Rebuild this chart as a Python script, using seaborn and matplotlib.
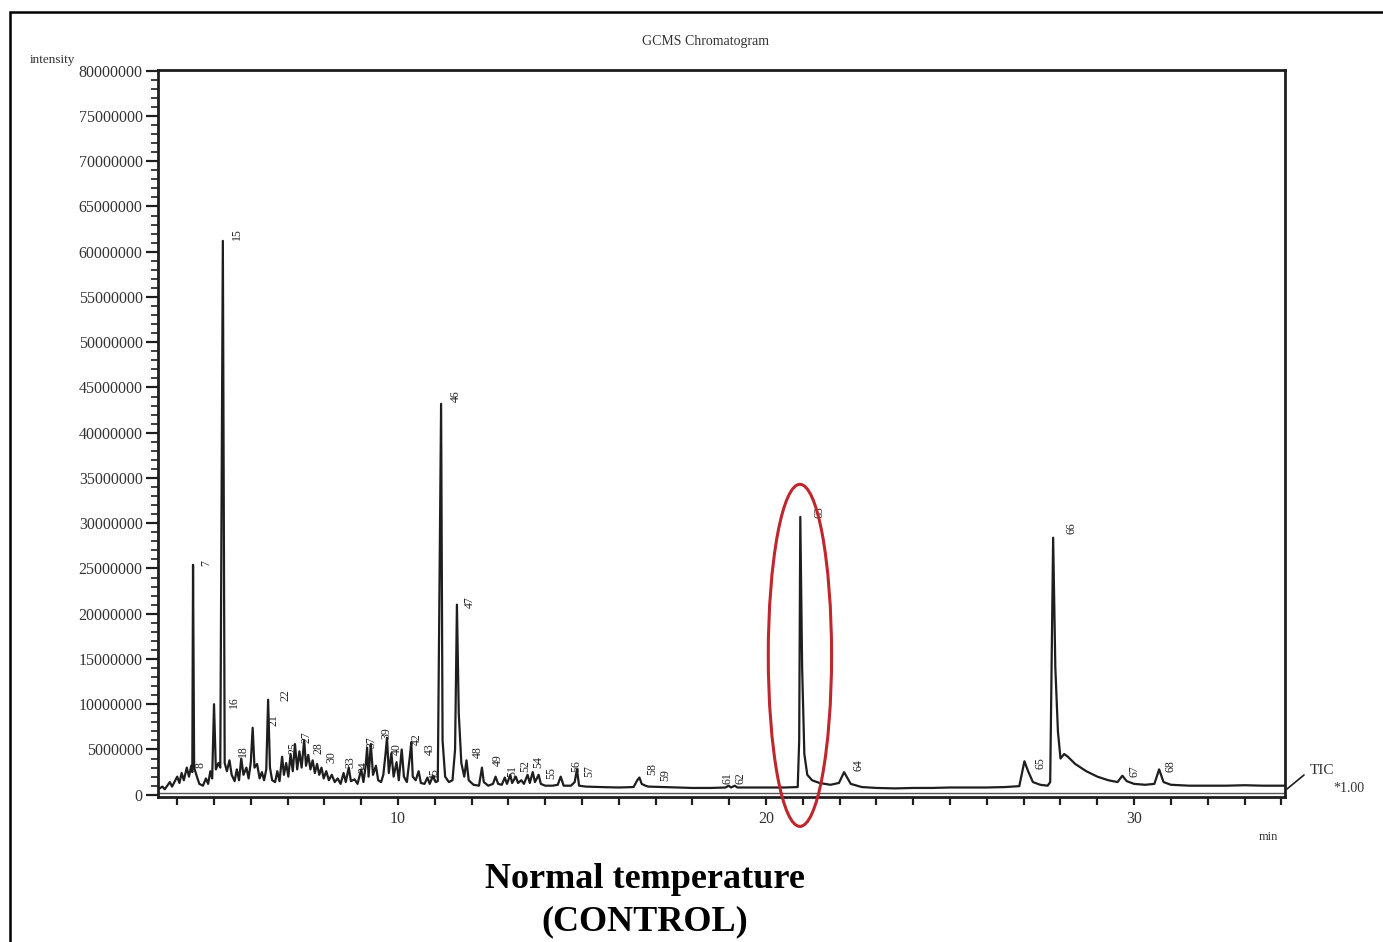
import matplotlib
matplotlib.use('Agg')
import matplotlib.pyplot as plt
import seaborn as sns
from matplotlib.patches import Ellipse, Rectangle
from matplotlib.lines import Line2D
from matplotlib.ticker import MultipleLocator, FixedLocator, FuncFormatter

sns.set_theme(style='ticks')
plt.rcParams['font.family'] = ['Liberation Serif', 'DejaVu Serif']

# TIC trace: retention time (min), intensity (x1e6)
rt_min = [
    3.48, 3.60, 3.66, 3.80, 3.86, 4.00, 4.06, 4.12, 4.18, 4.26, 4.32, 4.38, 4.41, 4.43, 4.46, 4.52,
    4.60, 4.70, 4.78, 4.84, 4.90, 4.95, 5.00, 5.05, 5.12, 5.17, 5.24, 5.29, 5.35, 5.42, 5.48, 5.56,
    5.62, 5.68, 5.74, 5.80, 5.88, 5.94, 6.00, 6.05, 6.10, 6.17, 6.24, 6.30, 6.36, 6.42, 6.47, 6.52,
    6.58, 6.66, 6.72, 6.78, 6.85, 6.90, 6.96, 7.02, 7.08, 7.14, 7.20, 7.26, 7.32, 7.38, 7.45, 7.50,
    7.56, 7.62, 7.68, 7.74, 7.80, 7.86, 7.92, 7.98, 8.05, 8.12, 8.20, 8.28, 8.36, 8.44, 8.52, 8.58,
    8.66, 8.72, 8.82, 8.90, 9.00, 9.06, 9.12, 9.16, 9.20, 9.26, 9.32, 9.40, 9.46, 9.54, 9.60, 9.66,
    9.70, 9.75, 9.82, 9.88, 9.96, 10.02, 10.10, 10.16, 10.24, 10.32, 10.36, 10.40, 10.48, 10.56, 10.62, 10.72,
    10.80, 10.86, 10.95, 11.02, 11.08, 11.17, 11.21, 11.28, 11.38, 11.48, 11.55, 11.60, 11.65, 11.72, 11.80, 11.86,
    11.92, 12.05, 12.20, 12.28, 12.33, 12.45, 12.58, 12.65, 12.72, 12.82, 12.90, 12.96, 13.05, 13.10, 13.20, 13.26,
    13.35, 13.42, 13.52, 13.58, 13.66, 13.72, 13.82, 13.88, 14.00, 14.20, 14.34, 14.42, 14.50, 14.70, 14.80, 14.86,
    14.92, 15.10, 15.50, 16.00, 16.40, 16.50, 16.56, 16.62, 16.72, 16.80, 17.20, 17.60, 18.00, 18.50, 18.90, 18.98,
    19.05, 19.15, 19.22, 19.60, 20.00, 20.50, 20.86, 20.90, 20.93, 20.98, 21.04, 21.12, 21.25, 21.45, 21.75, 21.98,
    22.12, 22.30, 22.60, 23.00, 23.50, 24.00, 24.50, 25.00, 25.50, 26.00, 26.50, 26.88, 27.02, 27.12, 27.25, 27.45,
    27.65, 27.72, 27.80, 27.86, 27.93, 28.00, 28.10, 28.20, 28.40, 28.70, 29.00, 29.30, 29.55, 29.68, 29.80, 30.00,
    30.30, 30.55, 30.68, 30.80, 31.00, 31.50, 32.00, 32.50, 33.00, 33.50, 34.10,
]
tic_m = [
    0.6, 0.9, 0.6, 1.4, 0.9, 2.0, 1.3, 2.4, 1.6, 3.0, 2.0, 3.2, 2.5, 25.4, 3.0, 2.2,
    1.2, 1.0, 1.8, 1.2, 2.6, 1.8, 10.0, 2.8, 3.5, 3.0, 61.2, 3.5, 2.6, 3.8, 2.2, 1.5,
    2.8, 1.6, 4.0, 2.2, 3.0, 1.8, 3.6, 7.4, 3.0, 3.4, 1.8, 2.5, 1.6, 2.8, 10.5, 3.0,
    1.6, 1.4, 2.6, 1.5, 4.2, 2.2, 3.5, 2.0, 4.5, 2.6, 5.6, 2.8, 4.8, 3.0, 6.0, 3.2,
    4.4, 2.8, 3.8, 2.4, 3.4, 2.2, 3.0, 1.8, 2.6, 1.6, 2.2, 1.4, 1.8, 1.2, 2.4, 1.4,
    3.0, 1.5, 1.7, 1.2, 2.8, 1.4, 3.2, 5.2, 2.0, 5.6, 2.2, 3.2, 1.6, 1.4, 2.2, 4.5,
    6.3, 2.4, 4.6, 2.0, 3.6, 1.6, 5.0, 2.0, 1.4, 4.2, 5.8, 2.0, 1.6, 2.6, 1.3, 1.2,
    1.9, 1.2, 2.1, 1.4, 1.5, 43.2, 6.0, 2.0, 1.4, 1.6, 5.0, 21.0, 9.0, 3.5, 2.0, 3.8,
    1.6, 1.1, 1.0, 3.0, 1.4, 1.0, 1.2, 2.0, 1.2, 1.1, 1.9, 1.2, 2.2, 1.3, 2.0, 1.3,
    1.6, 1.2, 2.2, 1.3, 2.5, 1.4, 2.2, 1.2, 1.0, 1.0, 1.1, 2.0, 1.0, 1.0, 1.4, 2.8,
    1.0, 0.9, 0.85, 0.8, 0.85, 1.6, 1.9, 1.2, 1.0, 0.9, 0.85, 0.8, 0.75, 0.75, 0.8, 1.0,
    0.8, 1.0, 0.8, 0.8, 0.8, 0.8, 0.85, 6.0, 30.7, 14.0, 4.5, 2.2, 1.6, 1.3, 1.1, 1.3,
    2.5, 1.2, 0.85, 0.75, 0.7, 0.75, 0.75, 0.8, 0.8, 0.8, 0.85, 0.95, 3.7, 2.6, 1.4, 1.1,
    1.0, 1.4, 28.4, 14.0, 7.0, 4.0, 4.5, 4.2, 3.4, 2.6, 2.0, 1.6, 1.4, 2.1, 1.5, 1.2,
    1.1, 1.2, 2.8, 1.4, 1.1, 1.0, 1.0, 1.0, 1.05, 1.0, 1.0,
]

# peak numbers with label centres (min, x1e6)
peak_ids = ['7', '8', '15', '16', '18', '21', '22', '25', '27', '28', '30', '33', '34',
            '37', '39', '40', '42', '43', '45', '46', '47', '48', '49', '51', '52', '54', '55',
            '56', '57', '58', '59', '61', '62', '63', '64', '65', '66', '67', '68']
label_rt = [4.78, 4.62, 5.62, 5.55, 5.78, 6.62, 6.93, 7.15, 7.50, 7.85, 8.20, 8.70, 9.05,
            9.28, 9.68, 9.98, 10.50, 10.85, 11.00, 11.58, 11.96, 12.18, 12.72, 13.10, 13.45, 13.80, 14.15,
            14.85, 15.20, 16.90, 17.25, 18.95, 19.30, 21.44, 22.50, 27.45, 28.30, 30.00, 30.98]
label_int = [25.6, 3.3, 62.0, 10.2, 4.8, 8.2, 11.0, 5.2, 6.4, 5.2, 4.2, 3.6, 3.0,
             5.8, 6.8, 5.0, 6.2, 5.0, 2.3, 44.0, 21.3, 4.7, 3.8, 2.6, 3.2, 3.6, 2.4,
             3.2, 2.6, 2.8, 2.2, 1.8, 1.8, 31.2, 3.3, 3.5, 29.5, 2.6, 3.2]

y_ticks = list(range(0, 80000001, 5000000))

W, H = 1383, 942
fig = plt.figure(figsize=(W / 100, H / 100), dpi=100)
ax = fig.add_axes([158 / W, (H - 797) / H, (1285 - 158) / W, (797 - 70) / H])

ink = '#1e1e1e'
sns.lineplot(x=rt_min, y=[v * 1e6 for v in tic_m], sort=False, estimator=None,
             color=ink, linewidth=1.6, ax=ax)
ax.axhline(0.15e6, color='#555555', linewidth=1.0)

for pid, x, y in zip(peak_ids, label_rt, label_int):
    ax.text(x, y * 1e6, pid, rotation=90, ha='center', va='center', fontsize=8.5, color='#222222')

ax.set_xlim(3.478, 34.10)
ax.set_ylim(-0.25e6, 80.08e6)

ax.yaxis.set_major_locator(FixedLocator(y_ticks))
ax.yaxis.set_minor_locator(MultipleLocator(1000000))
ax.yaxis.set_major_formatter(FuncFormatter(lambda v, p: f'{int(round(v))}'))
ax.xaxis.set_major_locator(FixedLocator([10, 20, 30]))
ax.xaxis.set_minor_locator(MultipleLocator(1))

ax.tick_params(axis='y', which='major', direction='out', length=9, width=1.6,
               labelsize=11.5, pad=2, colors=ink, labelcolor='#333333')
ax.tick_params(axis='y', which='minor', direction='out', length=5, width=1.2, color=ink)
ax.tick_params(axis='x', which='both', direction='out', length=6, width=1.6,
               labelsize=11.5, pad=4, colors=ink, labelcolor='#333333')
ax.set_xlabel('')
ax.set_ylabel('')
for side in ['left', 'right', 'top', 'bottom']:
    ax.spines[side].set_visible(True)
    ax.spines[side].set_linewidth(2.0)
    ax.spines[side].set_color(ink)

# red circle around peak 63
ax.add_patch(Ellipse((20.92, 15.4e6), 1.72, 37.8e6, fill=False, edgecolor='#c0272d',
                     linewidth=2.2, clip_on=False, zorder=5))

# labels around the plot
fig.text(705 / W, 1 - 41 / H, 'GCMS Chromatogram', ha='center', va='center', fontsize=10, color='#333333')
fig.text(30 / W, 1 - 60 / H, 'intensity', ha='left', va='center', fontsize=9.5, color='#333333')
fig.text(1268 / W, 1 - 837 / H, 'min', ha='center', va='center', fontsize=9, color='#333333')
fig.text(1310 / W, 1 - 770 / H, 'TIC', ha='left', va='center', fontsize=11, color='#333333')
fig.text(1333 / W, 1 - 788 / H, '*1.00', ha='left', va='center', fontsize=10, color='#333333')
fig.add_artist(Line2D([1287 / W, 1304 / W], [1 - 789 / H, 1 - 775 / H], color=ink, linewidth=1.2))

fig.text(645 / W, 1 - 880 / H, 'Normal temperature', ha='center', va='center',
         fontsize=26, fontweight='bold', color='black')
fig.text(645 / W, 1 - 922 / H, '(CONTROL)', ha='center', va='center',
         fontsize=26, fontweight='bold', color='black')

# outer frame of the figure panel
fig.add_artist(Rectangle((10 / W, -0.05), 1.0, 1 - 12 / H + 0.05, transform=fig.transFigure,
                         fill=False, edgecolor='black', linewidth=1.8))

fig.savefig('out.png', dpi=100)
